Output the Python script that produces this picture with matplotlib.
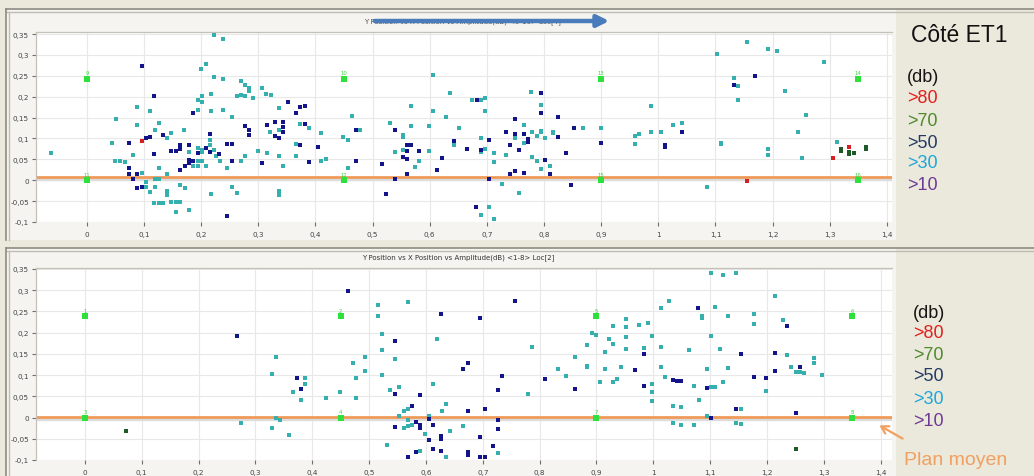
import matplotlib
matplotlib.use('Agg')
import matplotlib.pyplot as plt
from matplotlib.patches import Rectangle
from matplotlib.lines import Line2D
from matplotlib.ticker import FuncFormatter, FixedLocator

# ---------------- data ----------------
x_ticks = [0, 0.1, 0.2, 0.3, 0.4, 0.5, 0.6, 0.7, 0.8, 0.9, 1.0, 1.1, 1.2, 1.3, 1.4]
y_ticks = [-0.1, -0.05, 0, 0.05, 0.1, 0.15, 0.2, 0.25, 0.3, 0.35]

top_title = "Y Position vs X Position vs Amplitude(dB) <9-16> Loc[4]"
bottom_title = "Y Position vs X Position vs Amplitude(dB) <1-8> Loc[2]"

ref_x = [0, 0.45, 0.9, 1.35, 0, 0.45, 0.9, 1.35]
top_ref_y = [0.243, 0.243, 0.243, 0.243, 0.0, 0.0, 0.0, 0.0]
top_ref_labels = ["9", "10", "13", "14", "11", "12", "15", "16"]
bottom_ref_y = [0.239, 0.239, 0.239, 0.239, 0.0, 0.0, 0.0, 0.0]
bottom_ref_labels = ["1", "2", "5", "6", "3", "4", "7", "8"]

top_plan_y = 0.007
bottom_plan_y = 0.002

top_cyan = [
    (-0.062, 0.065), (0.088, 0.175), (0.111, 0.167), (0.051, 0.146), (0.088, 0.132), (0.126, 0.136),
    (0.119, 0.120), (0.044, 0.090), (0.140, 0.102), (0.148, 0.112), (0.170, 0.120), (0.081, 0.061),
    (0.050, 0.045), (0.058, 0.046), (0.066, 0.043), (0.097, 0.018), (0.103, -0.005), (0.103, -0.015),
    (0.111, -0.028), (0.119, 0.002), (0.126, 0.002), (0.119, -0.016), (0.126, 0.029), (0.140, 0.015),
    (0.140, -0.026), (0.140, -0.036), (0.118, -0.055), (0.126, -0.055), (0.134, -0.055), (0.148, -0.051),
    (0.156, -0.051), (0.163, -0.051), (0.156, -0.077), (0.178, -0.072), (0.163, -0.011), (0.171, -0.018),
    (0.178, 0.068), (0.186, 0.035), (0.194, 0.168), (0.194, 0.191), (0.201, 0.187), (0.201, 0.201),
    (0.200, 0.266), (0.208, 0.278), (0.223, 0.347), (0.238, 0.339), (0.217, 0.206), (0.223, 0.247),
    (0.238, 0.242), (0.217, 0.167), (0.238, 0.168), (0.216, 0.097), (0.216, 0.084), (0.194, 0.077),
    (0.201, 0.072), (0.201, 0.067), (0.223, 0.072), (0.194, 0.045), (0.201, 0.045), (0.194, 0.035),
    (0.208, 0.035), (0.226, 0.058), (0.233, 0.046), (0.246, 0.030), (0.254, 0.151), (0.217, -0.034),
    (0.254, -0.015), (0.262, -0.030), (0.269, 0.045), (0.276, 0.058), (0.269, 0.238), (0.276, 0.227),
    (0.284, 0.221), (0.284, 0.214), (0.262, 0.202), (0.269, 0.205), (0.276, 0.202),
    (0.306, 0.222), (0.314, 0.207), (0.322, 0.205), (0.291, 0.196), (0.336, 0.172), (0.321, 0.115),
    (0.336, 0.120), (0.373, 0.135), (0.389, 0.124), (0.366, 0.087), (0.410, 0.112), (0.299, 0.071),
    (0.315, 0.065), (0.336, 0.058), (0.366, 0.058), (0.344, 0.034), (0.410, 0.046), (0.419, 0.051),
    (0.336, -0.026), (0.336, -0.035), (0.464, 0.155), (0.448, 0.104), (0.457, 0.096), (0.478, 0.121),
    (0.457, 0.030), (0.531, 0.136), (0.553, 0.109), (0.553, 0.104), (0.568, 0.177), (0.568, 0.131),
    (0.539, 0.067), (0.553, 0.073), (0.598, 0.069), (0.582, 0.045), (0.575, 0.031), (0.606, 0.252),
    (0.606, 0.167), (0.599, 0.131), (0.628, 0.152), (0.635, 0.208), (0.643, 0.085), (0.652, 0.126),
    (0.674, 0.193), (0.690, 0.191), (0.697, 0.197), (0.697, 0.167), (0.690, 0.100), (0.690, 0.068),
    (0.697, 0.074), (0.712, 0.065), (0.712, 0.043), (0.726, -0.010), (0.757, -0.030), (0.704, -0.063),
    (0.690, -0.083), (0.712, -0.093), (0.778, 0.211), (0.795, 0.180), (0.765, 0.132), (0.749, 0.101),
    (0.765, 0.089), (0.779, 0.116), (0.787, 0.107), (0.795, 0.119), (0.795, 0.115), (0.802, 0.100),
    (0.816, 0.115), (0.816, 0.112), (0.869, 0.126), (0.734, 0.060), (0.779, 0.055), (0.787, 0.046),
    (0.810, 0.033), (0.795, 0.026), (0.899, 0.124), (0.988, 0.177), (0.959, 0.105), (0.967, 0.111),
    (0.959, 0.086), (0.988, 0.116), (1.004, 0.116), (1.026, 0.132),
    (1.042, 0.136), (1.102, 0.302), (1.155, 0.330), (1.192, 0.314), (1.207, 0.309), (1.290, 0.283),
    (1.132, 0.246), (1.140, 0.225), (1.140, 0.193), (1.222, 0.213), (1.259, 0.157), (1.244, 0.115),
    (1.109, 0.090), (1.109, 0.086), (1.192, 0.074), (1.192, 0.061), (1.252, 0.053), (1.312, 0.092),
    (1.086, -0.016),
]

top_navy = [
    (0.0965, 0.274), (0.118, 0.201), (0.073, 0.090), (0.103, 0.100), (0.111, 0.104), (0.134, 0.108),
    (0.118, 0.064), (0.073, 0.030), (0.073, 0.014), (0.081, 0.002), (0.088, 0.015), (0.088, -0.018),
    (0.097, -0.015), (0.148, 0.071), (0.156, 0.071), (0.163, 0.075), (0.163, 0.085), (0.178, 0.084),
    (0.163, 0.024), (0.171, 0.035), (0.178, 0.041), (0.178, 0.049), (0.186, 0.045), (0.186, 0.161),
    (0.216, 0.111), (0.194, 0.066), (0.208, 0.077), (0.215, 0.067), (0.231, 0.064), (0.246, 0.087),
    (0.254, 0.087), (0.254, 0.046), (0.246, -0.086), (0.276, 0.131), (0.284, 0.120), (0.284, 0.109),
    (0.352, 0.187), (0.373, 0.175), (0.381, 0.177), (0.366, 0.161), (0.315, 0.132), (0.329, 0.140),
    (0.344, 0.140), (0.344, 0.127), (0.344, 0.115), (0.329, 0.106), (0.336, 0.100), (0.381, 0.135),
    (0.373, 0.085), (0.404, 0.080), (0.306, 0.041), (0.389, 0.043), (0.471, 0.120), (0.471, 0.045),
    (0.516, 0.038), (0.524, -0.032), (0.539, 0.002), (0.539, 0.120), (0.560, 0.084), (0.568, 0.084),
    (0.560, 0.070), (0.553, 0.056), (0.560, 0.050), (0.582, 0.071), (0.560, 0.014), (0.613, 0.024),
    (0.622, 0.053), (0.643, 0.095),
    (0.682, 0.193), (0.666, 0.076), (0.690, 0.072), (0.704, 0.096), (0.704, 0.002), (0.681, -0.063),
    (0.795, 0.208), (0.795, 0.161), (0.749, 0.146), (0.824, 0.152), (0.734, 0.115), (0.749, 0.110),
    (0.765, 0.110), (0.772, 0.099), (0.772, 0.091), (0.824, 0.104), (0.853, 0.124), (0.741, 0.085),
    (0.757, 0.073), (0.802, 0.049), (0.810, 0.014), (0.741, 0.014), (0.749, 0.022), (0.765, 0.018),
    (0.839, 0.065), (0.847, -0.012), (0.899, 0.089), (1.011, 0.084), (1.011, 0.079),
    (1.042, 0.116), (1.169, 0.249), (1.132, 0.227),
]

top_red = [(0.0965, 0.095), (1.334, 0.079), (1.305, 0.053), (1.155, -0.001)]
top_green = [(1.319, 0.074), (1.319, 0.070), (1.334, 0.068), (1.334, 0.064), (1.342, 0.065),
             (1.364, 0.080), (1.364, 0.076)]

bottom_cyan = [
    (0.275, -0.013), (0.515, 0.264), (0.515, 0.238), (0.568, 0.272), (0.523, 0.197), (0.620, 0.186),
    (0.523, 0.158), (0.545, 0.137), (0.336, 0.142), (0.329, 0.103), (0.471, 0.129), (0.493, 0.142),
    (0.493, 0.110), (0.477, 0.094), (0.523, 0.100), (0.388, 0.092), (0.388, 0.078), (0.366, 0.060),
    (0.380, 0.041), (0.425, 0.045), (0.449, 0.060), (0.477, 0.047), (0.537, 0.065), (0.553, 0.071),
    (0.613, 0.078), (0.336, -0.002), (0.343, -0.005), (0.329, -0.025), (0.359, -0.041), (0.568, 0.019),
    (0.561, 0.016), (0.553, 0.003), (0.568, -0.006), (0.575, -0.018), (0.568, -0.021), (0.561, -0.025),
    (0.605, 0.003), (0.635, 0.032), (0.628, 0.016), (0.642, -0.031), (0.598, -0.039), (0.531, -0.065),
    (0.590, -0.079), (0.635, -0.094),
    (0.787, 0.166), (0.779, 0.056), (0.666, -0.021), (0.726, -0.084), (0.832, 0.115), (0.847, 0.098),
    (0.862, 0.143), (0.884, 0.170), (0.884, 0.122), (0.884, 0.118), (0.892, 0.199), (0.899, 0.195),
    (0.922, 0.184), (0.930, 0.172), (0.930, 0.215), (0.915, 0.154), (0.952, 0.232), (0.952, 0.213),
    (0.952, 0.190), (0.952, 0.162), (0.975, 0.217), (0.990, 0.222), (0.915, 0.114), (0.944, 0.119),
    (0.907, 0.083), (0.930, 0.083), (0.937, 0.091), (0.983, 0.164), (0.998, 0.191), (1.013, 0.167),
    (1.013, 0.258), (1.027, 0.275), (1.013, 0.118), (1.020, 0.095), (0.998, 0.078), (0.998, 0.060),
    (0.998, 0.040), (1.034, 0.027), (1.034, -0.013),
    (1.102, 0.340), (1.123, 0.336), (1.146, 0.340), (1.214, 0.285), (1.086, 0.240), (1.086, 0.235),
    (1.109, 0.260), (1.131, 0.240), (1.177, 0.243), (1.177, 0.220), (1.228, 0.230), (1.102, 0.192),
    (1.063, 0.158), (1.117, 0.162), (1.236, 0.147), (1.283, 0.139), (1.283, 0.128), (1.094, 0.114),
    (1.131, 0.116), (1.243, 0.120), (1.251, 0.108), (1.259, 0.108), (1.266, 0.104), (1.297, 0.099),
    (1.072, 0.075), (1.102, 0.071), (1.109, 0.071), (1.123, 0.083), (1.199, 0.062), (1.080, 0.041),
    (1.048, 0.024), (1.154, 0.019), (1.094, 0.003), (1.048, -0.018), (1.072, -0.018), (1.146, -0.013),
    (1.154, -0.016),
]

bottom_navy = [
    (0.268, 0.192), (0.463, 0.298), (0.627, 0.243), (0.545, 0.180), (0.373, 0.092), (0.380, 0.067),
    (0.545, 0.056), (0.590, 0.053), (0.575, 0.027), (0.583, -0.010), (0.590, -0.018), (0.590, -0.024),
    (0.545, -0.023), (0.605, -0.003), (0.613, -0.018), (0.627, -0.044), (0.627, -0.050), (0.605, -0.052),
    (0.583, -0.081), (0.613, -0.075), (0.627, -0.079), (0.568, -0.094),
    (0.757, 0.275), (0.695, 0.235), (0.666, 0.115), (0.674, 0.128), (0.734, 0.098), (0.726, 0.065),
    (0.674, 0.016), (0.704, 0.019), (0.726, -0.007), (0.726, -0.026), (0.695, -0.047), (0.718, -0.068),
    (0.674, -0.080), (0.674, -0.089), (0.695, -0.094), (0.704, -0.094), (0.809, 0.091), (0.862, 0.067),
    (0.983, 0.149), (0.967, 0.113), (0.983, 0.075), (1.034, 0.089),
    (1.079, 0.258), (1.236, 0.216), (1.154, 0.149), (1.214, 0.153), (1.214, 0.110), (1.259, 0.120),
    (1.177, 0.096), (1.199, 0.094), (1.041, 0.085), (1.048, 0.085), (1.094, 0.070), (1.146, 0.019),
    (1.251, 0.011), (1.102, -0.002),
]

bottom_red = []
bottom_green = [(0.073, -0.032), (1.251, -0.075)]

legend_labels = ["(db)", ">80", ">70", ">50", ">30", ">10"]
legend_colors = ["#151515", "#e0201c", "#4e8a2c", "#243a62", "#1fa6d8", "#6e3a96"]

# ---------------- style ----------------
W, H = 1034, 477
BG = "#ebe8dc"
PANEL = "#f5f4f0"
C_CYAN = "#35b0ae"
C_NAVY = "#14148a"
C_RED = "#d42020"
C_DGREEN = "#1d5a26"
C_REF = "#2ee03a"
C_PLAN = "#f09a5a"

plt.rcParams['font.family'] = ['DejaVu Sans']

fig = plt.figure(figsize=(W / 100, H / 100), dpi=100, facecolor=BG)


def fx(px):
    return px / W


def fy(py):
    return 1 - py / H


# panel backgrounds and frames
for (y0, y1) in [(10, 241), (249, 477)]:
    fig.add_artist(Rectangle((fx(6), fy(y1)), fx(896) - fx(6), fy(y0) - fy(y1),
                             transform=fig.transFigure, facecolor=PANEL, edgecolor='none', zorder=0))
    fig.add_artist(Line2D([fx(6), 1], [fy(y0), fy(y0)], color='#8c8c84', lw=1.2, zorder=1))
    fig.add_artist(Line2D([fx(6), 1], [fy(y0 + 3), fy(y0 + 3)], color='#bdbdb4', lw=1.0, zorder=1))
    fig.add_artist(Line2D([fx(6), fx(6)], [fy(y1), fy(y0)], color='#8c8c84', lw=1.2, zorder=1))
    fig.add_artist(Line2D([fx(8.5), fx(8.5)], [fy(y1), fy(y0 + 3)], color='#bdbdb4', lw=1.0, zorder=1))


def fmt(v, pos):
    s = ("%g" % round(v, 3)).replace('.', ',')
    return s


def draw_panel(rect, xlim, ylim, cyan, navy, red, green, ref_y, ref_labels, plan_y):
    ax = fig.add_axes(rect)
    ax.set_facecolor('white')
    ax.set_xlim(*xlim)
    ax.set_ylim(*ylim)
    ax.xaxis.set_major_locator(FixedLocator(x_ticks))
    ax.yaxis.set_major_locator(FixedLocator(y_ticks))
    ax.xaxis.set_major_formatter(FuncFormatter(fmt))
    ax.yaxis.set_major_formatter(FuncFormatter(fmt))
    ax.tick_params(axis='both', labelsize=5.2, colors='#707070', labelcolor='#444444',
                   length=3, width=0.8, pad=2)
    ax.tick_params(axis='x', pad=3.5)
    ax.grid(True, color='#e8e8e8', lw=0.8, zorder=0)
    ax.set_axisbelow(True)
    for name, sp in ax.spines.items():
        sp.set_color('#c4c2b8')
        sp.set_linewidth(0.9)
    ax.spines['right'].set_visible(False)
    ax.spines['bottom'].set_visible(False)

    # plan moyen line with shadow
    ax.axhline(plan_y - 0.0045, color='#dcdcdc', lw=2.4, zorder=1.5)
    ax.axhline(plan_y, color=C_PLAN, lw=2.0, zorder=2)

    # reference markers
    ax.scatter(ref_x, ref_y, marker='s', s=20, color=C_REF, linewidths=0, zorder=4)
    for xr, yr, lab in zip(ref_x, ref_y, ref_labels):
        ax.text(xr, yr + 0.008, lab, fontsize=3.8, color='#3ad040', ha='center', va='bottom', zorder=4)

    for pts, col in [(cyan, C_CYAN), (navy, C_NAVY), (green, C_DGREEN), (red, C_RED)]:
        if pts:
            xs = [p[0] for p in pts]
            ys = [p[1] for p in pts]
            ax.scatter(xs, ys, marker='s', s=9, color=col, linewidths=0, zorder=3)
    return ax


ax_top = draw_panel([fx(36), fy(223), fx(892) - fx(36), fy(33) - fy(223)],
                    (-0.089, 1.409), (-0.1, 0.355),
                    top_cyan, top_navy, top_red, top_green, top_ref_y, top_ref_labels, top_plan_y)
ax_bot = draw_panel([fx(36), fy(461), fx(892) - fx(36), fy(269) - fy(461)],
                    (-0.086, 1.42), (-0.1, 0.352),
                    bottom_cyan, bottom_navy, bottom_red, bottom_green, bottom_ref_y, bottom_ref_labels,
                    bottom_plan_y)

# titles
fig.text(fx(462), fy(22), top_title, fontsize=5, color='#555555', ha='center', va='center')
fig.text(fx(458), fy(258), bottom_title, fontsize=5, color='#333333', ha='center', va='center')

# blue arrow over the top title
fig.add_artist(matplotlib.patches.FancyArrowPatch(
    (fx(372), fy(22)), (fx(612), fy(22)), transform=fig.transFigure,
    arrowstyle='-|>,head_length=7,head_width=3.5', color='#4a7cbc', lw=3.2,
    mutation_scale=1, zorder=5))

# right-hand annotations
RF = ['Liberation Sans', 'DejaVu Sans']
fig.text(fx(911), fy(36), "Côté ET1", fontsize=16.5, family=RF, color='#111111', va='center', ha='left')

top_leg_y = [78, 99, 121, 143, 164, 186]
bot_leg_y = [314, 334, 356, 377, 400, 422]
for lab, col, y1, y2 in zip(legend_labels, legend_colors, top_leg_y, bot_leg_y):
    fig.text(fx(907), fy(y1), lab, fontsize=13, family=RF, color=col, va='center', ha='left')
    fig.text(fx(913), fy(y2), lab, fontsize=13, family=RF, color=col, va='center', ha='left')

fig.text(fx(904), fy(461), "Plan moyen", fontsize=14, family=RF, color='#f0a060', va='center', ha='left')
fig.add_artist(matplotlib.patches.FancyArrowPatch(
    (fx(905), fy(441)), (fx(877), fy(425)), transform=fig.transFigure,
    arrowstyle='->,head_length=5,head_width=3', color='#f0a060', lw=1.6,
    mutation_scale=1, zorder=5))

fig.savefig('out.png', dpi=100, facecolor=BG)
